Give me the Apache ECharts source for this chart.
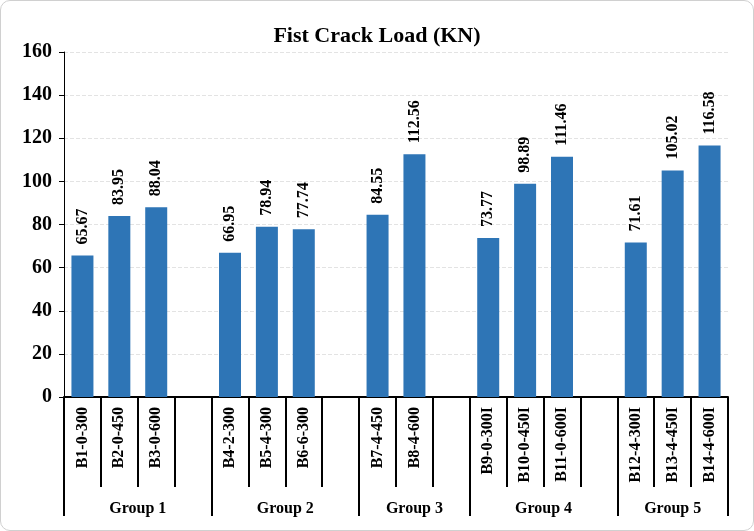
<!DOCTYPE html>
<html><head><meta charset="utf-8">
<script src="https://cdn.jsdelivr.net/npm/echarts@6/dist/echarts.min.js"></script>
<style>html,body{margin:0;padding:0;background:#fff}#c{width:754px;height:531px;box-sizing:border-box;border:1px solid #d0d0d0;border-radius:10px;overflow:hidden}</style>
</head><body><div id="c"></div>
<script>
// Categories ('' marks the gap slot after each group)
const categories = ['B1-0-300','B2-0-450','B3-0-600','', 'B4-2-300','B5-4-300','B6-6-300','', 'B7-4-450','B8-4-600','', 'B9-0-300I','B10-0-450I','B11-0-600I','', 'B12-4-300I','B13-4-450I','B14-4-600I'];
const values = [65.67,83.95,88.04,null, 66.95,78.94,77.74,null, 84.55,112.56,null, 73.77,98.89,111.46,null, 71.61,105.02,116.58];
const groupNames = ['Group 1','Group 2','Group 3','Group 4','Group 5'];
const groupSlots = [4,4,3,4,3];
const yTicks = [0,20,40,60,80,100,120,140,160];

const bounds = [0];
groupSlots.forEach(n => bounds.push(bounds[bounds.length-1] + n));
const centers = groupSlots.map((n,i) => bounds[i] + n/2);

const serif = '"Liberation Serif","Times New Roman",serif';
const chart = echarts.init(document.getElementById('c'));
chart.setOption({
  animation:false,
  title:{text:'Fist Crack Load (KN)',left:'center',top:19,textStyle:{fontFamily:serif,fontWeight:'bold',fontSize:22,color:'#000'}},
  grid:{left:63,right:25,top:51,bottom:133,containLabel:false},
  xAxis:[{
    type:'category',data:categories,
    axisLine:{lineStyle:{color:'#000',width:2}},
    axisTick:{show:true,interval:0,length:90,lineStyle:{color:'#000',width:2}},
    axisLabel:{interval:0,rotate:90,margin:10,fontFamily:serif,fontWeight:'bold',fontSize:16,color:'#000'}
  },{
    type:'value',min:0,max:bounds[bounds.length-1],position:'bottom',
    axisLine:{show:false},splitLine:{show:false},
    axisTick:{show:true,customValues:bounds,length:119,lineStyle:{color:'#000',width:2}},
    axisLabel:{customValues:centers,margin:104,fontFamily:serif,fontWeight:'bold',fontSize:16,color:'#000',
      formatter:function(v){const i=centers.indexOf(v);return i>=0?groupNames[i]:'';}}
  }],
  yAxis:{type:'value',min:yTicks[0],max:yTicks[yTicks.length-1],interval:20,
    axisLine:{show:true,lineStyle:{color:'#000',width:1}},
    axisTick:{show:true,length:5,lineStyle:{color:'#000'}},
    axisLabel:{margin:12,fontFamily:serif,fontWeight:'bold',fontSize:20,color:'#000'},
    splitLine:{lineStyle:{type:'dashed',color:'#e3e3e3'}}
  },
  series:[{type:'bar',xAxisIndex:0,data:values,barWidth:22,itemStyle:{color:'#2e75b6'},
    label:{show:true,position:'top',rotate:90,align:'left',verticalAlign:'middle',distance:11,
      fontFamily:serif,fontWeight:'bold',fontSize:16,color:'#000',formatter:p=>p.value.toFixed(2)}}]
});
</script></body></html>
